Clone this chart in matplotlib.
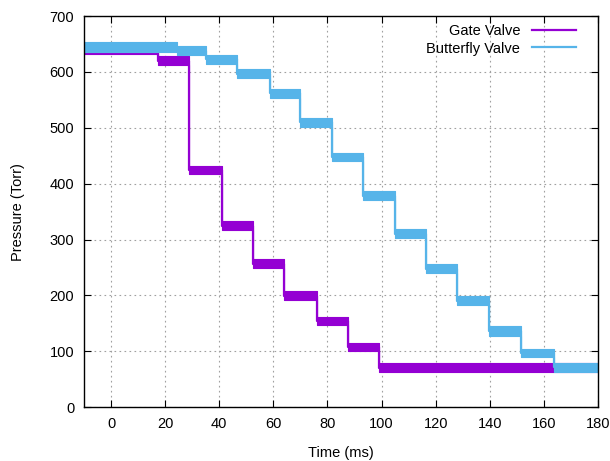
import matplotlib
matplotlib.use("Agg")
import matplotlib.pyplot as plt
import numpy as np

plt.rcParams['font.family'] = ['Liberation Sans', 'DejaVu Sans']

# Gate valve: step start times (ms), band low / high (Torr)
gate_t = [-10, 17.5, 29, 41, 52.5, 64, 76, 87.5, 99]
gate_lo = [632, 612, 417, 317, 249, 192, 147, 101, 62]
gate_hi = [652, 628, 431, 333, 265, 207, 162, 114, 79]

# Butterfly valve
butter_t = [-10, 24.5, 35, 46.7, 58.8, 70, 81.5, 93.3, 104.8, 116.3, 128, 139.6, 151.5, 163.6]
butter_lo = [635, 630, 614, 589, 554, 502, 440, 370, 303, 240, 183, 128, 90, 63]
butter_hi = [654, 646, 631, 605, 570, 518, 455, 387, 318, 256, 198, 145, 104, 79]

t_end = 180

xticks = [0, 20, 40, 60, 80, 100, 120, 140, 160, 180]
yticks = [0, 100, 200, 300, 400, 500, 600, 700]

gate_color = '#9400d3'
butter_color = '#56b4e9'

fig = plt.figure(figsize=(6.1, 4.61), dpi=100)
ax = fig.add_axes([0.1377, 0.117, 0.9803 - 0.1377, 0.965 - 0.117])


def draw(ts, lo, hi, color, label):
    x = np.array(list(ts) + [t_end], dtype=float)
    lo_a = np.array(list(lo) + [lo[-1]], dtype=float)
    hi_a = np.array(list(hi) + [hi[-1]], dtype=float)
    mid = (lo_a + hi_a) / 2
    ax.fill_between(x, lo_a, hi_a, step='post', color=color, linewidth=0.8,
                    edgecolor=color, zorder=2)
    ax.plot(x, mid, drawstyle='steps-post', color=color, linewidth=1.6,
            label=label, zorder=2)


draw(gate_t, gate_lo, gate_hi, gate_color, 'Gate Valve')
draw(butter_t, butter_lo, butter_hi, butter_color, 'Butterfly Valve')

ax.set_xlim(-10, 180)
ax.set_ylim(0, 700)
ax.set_xticks(xticks)
ax.set_yticks(yticks)
ax.tick_params(direction='in', length=5, top=True, right=True, labelsize=10.5,
               width=0.8, pad=7)
ax.grid(True, linestyle=(0, (1.5, 3)), color='#a0a0a0', linewidth=0.8)
ax.set_axisbelow(True)
for s in ax.spines.values():
    s.set_linewidth(1.0)

ax.set_xlabel('Time (ms)', fontsize=10.5, labelpad=11)
ax.set_ylabel('Pressure (Torr)', fontsize=10.5, labelpad=18)

leg = ax.legend(loc='upper right', frameon=False, markerfirst=False, fontsize=10.5,
                handlelength=3.0, borderaxespad=0.0, labelspacing=0.25,
                handletextpad=0.8, bbox_to_anchor=(0.968, 0.995))
for h in leg.get_lines():
    h.set_linewidth(1.6)

fig.savefig('out.png', dpi=100)
